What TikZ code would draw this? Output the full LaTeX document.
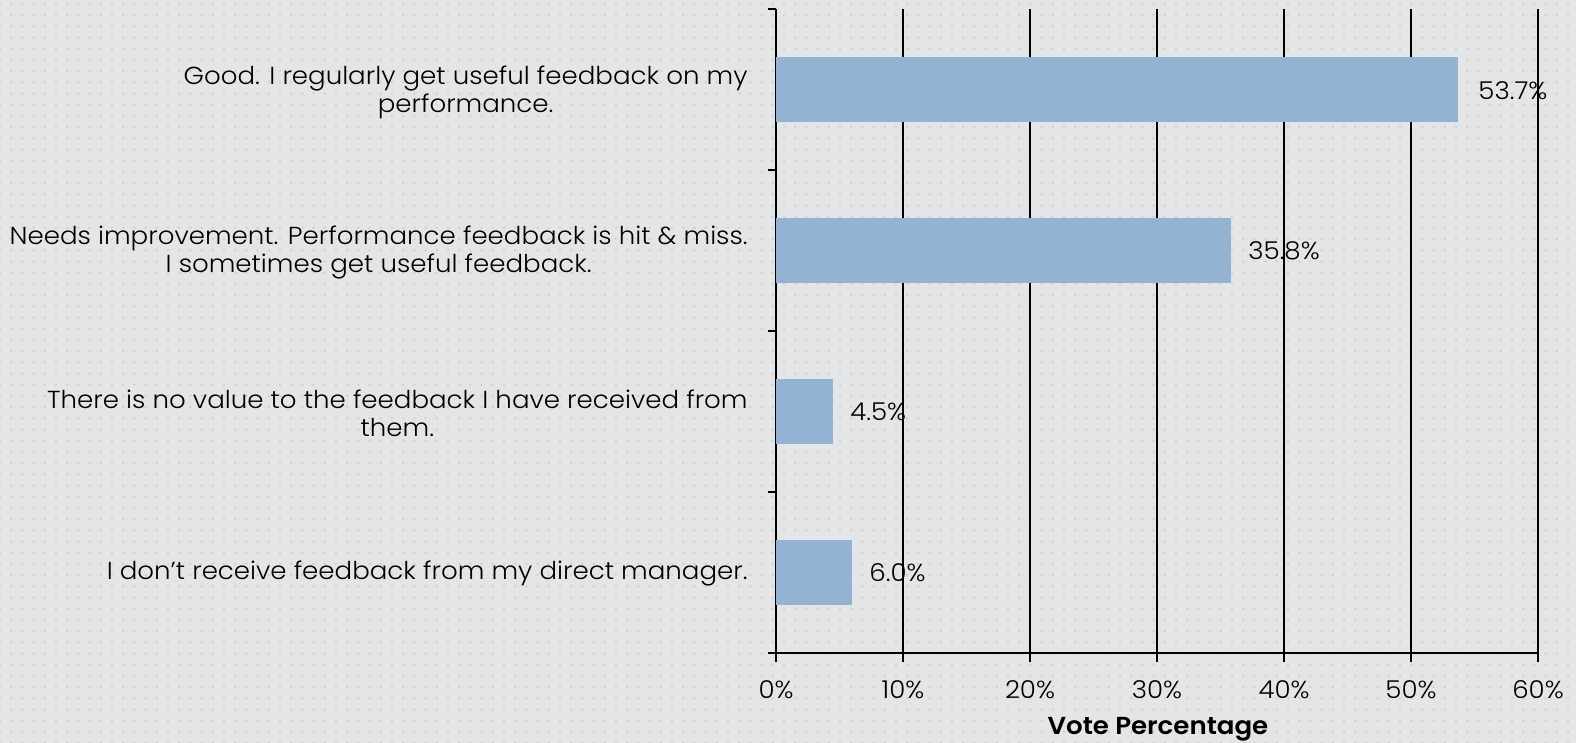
\documentclass[tikz,border=0pt]{standalone}
\usepackage{fontspec}
\setmainfont{Poppins}[UprightFont={* Light},BoldFont={* SemiBold},FakeStretch=1.06]
\usetikzlibrary{calc}
\usetikzlibrary{patterns.meta}
\definecolor{barblue}{RGB}{148,179,211}
\definecolor{slidegray}{RGB}{228,229,231}
\definecolor{dotgray}{RGB}{204,205,208}

\begin{document}
\begin{tikzpicture}[x=0.5pt,y=-0.5pt,
        axisline/.style={line width=0.8pt,black},
        gridline/.style={line width=0.8pt,black},
        catlabel/.style={anchor=east,align=center,inner sep=0pt,font=\fontsize{12.3}{14}\selectfont},
        vallabel/.style={anchor=west,inner sep=0pt,font=\fontsize{12.3}{14}\selectfont},
        ticklabel/.style={inner sep=0pt,font=\fontsize{12.3}{14}\selectfont}]
            % background
            \fill[slidegray] (0,0) rectangle (1576,743);
            \fill[pattern={Dots[distance=5.6pt,radius=0.6pt]},pattern color=dotgray] (0,0) rectangle (1576,743);
            \useasboundingbox (0,0) rectangle (1576,743);

            \coordinate (O) at (776,653);
            \coordinate (T) at (776,9);

            % gridlines
            \draw[gridline] (903,9) -- (903,662);
            \draw[gridline] (1030,9) -- (1030,662);
            \draw[gridline] (1157,9) -- (1157,662);
            \draw[gridline] (1284,9) -- (1284,662);
            \draw[gridline] (1411,9) -- (1411,662);
            \draw[gridline] (1538,9) -- (1538,662);

            % axes
            \draw[axisline] (T) -- (776,662);
            \draw[axisline] (768,653) -- (1538,653);
            \draw[axisline] (768,9) -- (T);
            \draw[axisline] (768,170) -- (776,170);
            \draw[axisline] (768,331) -- (776,331);
            \draw[axisline] (768,492) -- (776,492);

            % bars
            \fill[barblue] (776,57) rectangle (1458,122);
            \fill[barblue] (776,218) rectangle (1231,283);
            \fill[barblue] (776,379) rectangle (833,444);
            \fill[barblue] (776,540) rectangle (852,605);

            % values
            \node[vallabel] (v1) at (1478,91) {53.7\%};
            \node[vallabel] (v2) at (1248,251) {35.8\%};
            \node[vallabel] (v3) at (850,412) {4.5\%};
            \node[vallabel] (v4) at (869,573) {6.0\%};

            % categories
            \node[catlabel] (c1) at (748,92) {Good. I regularly get useful feedback on my\\performance.};
            \node[catlabel] (c2) at (748,252) {Needs improvement. Performance feedback is hit \& miss.\\I sometimes get useful feedback.};
            \node[catlabel] (c3) at (748,413) {There is no value to the feedback I have received from\\them.};
            \node[catlabel] (c4) at (748,573) {I don't receive feedback from my direct manager.};

            % x axis
            \node[ticklabel] (x0) at (776,690) {0\%};
            \node[ticklabel] (x1) at (903,690) {10\%};
            \node[ticklabel] (x2) at (1030,690) {20\%};
            \node[ticklabel] (x3) at (1157,690) {30\%};
            \node[ticklabel] (x4) at (1284,690) {40\%};
            \node[ticklabel] (x5) at (1411,690) {50\%};
            \node[ticklabel] (x6) at (1538,690) {60\%};
            \node[ticklabel,font=\fontsize{12.3}{14}\selectfont\bfseries] (xt) at (1158,729) {Vote Percentage};
        \end{tikzpicture}
\end{document}
